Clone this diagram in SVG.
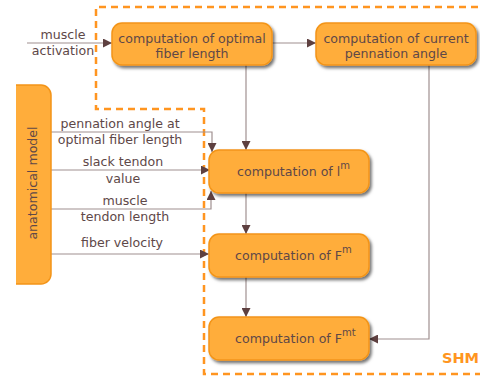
<svg xmlns="http://www.w3.org/2000/svg" width="480" height="376" viewBox="0 0 480 376">
<style>
.box{fill:#ffad3b;stroke:#f39418;stroke-width:1.5;filter:url(#sh)}
.t{font-family:"DejaVu Sans",sans-serif;font-size:12.6px;fill:#5e4848}
.m{text-anchor:middle}
.sup{font-size:10px}
.c{fill:none;stroke:#a09090;stroke-width:1.2;marker-end:url(#ah)}
.dash{fill:none;stroke:#ff9520;stroke-width:2.5;stroke-dasharray:7,5}
</style>
<defs>
<filter id="sh" x="-20%" y="-30%" width="140%" height="170%">
<feDropShadow dx="2" dy="2.5" stdDeviation="1.8" flood-color="#000" flood-opacity="0.55"/>
</filter>
<marker id="ah" viewBox="0 0 10 10" refX="10" refY="5" markerWidth="9" markerHeight="9" markerUnits="userSpaceOnUse" orient="auto">
<path d="M0,0 L10,5 L0,10 z" fill="#5e4040"/>
</marker>
<clipPath id="clipA"><rect x="16" y="0" width="100" height="376"/></clipPath>
</defs>
<rect width="480" height="376" fill="#fff"/>

<g id="shm-boundary">
<path class="dash" d="M490,7 L96,7 L96,109 L204,109 L204,374 L490,374"/>
<text x="479" y="363" text-anchor="end" font-family="DejaVu Sans, sans-serif" font-size="14.5px" font-weight="bold" fill="#ff9520">SHM</text>
</g>

<g id="connectors">
<path class="c" d="M27,43 L112,43"/>
<path class="c" d="M272,43 L316,43"/>
<path class="c" d="M246,65 L246,150"/>
<path class="c" d="M246,193 L246,234"/>
<path class="c" d="M246,277 L246,317"/>
<path class="c" d="M429,65 L429,339 L369,339"/>
<path class="c" d="M50,132 L212,132 L212,152"/>
<path class="c" d="M50,170 L210,170"/>
<path class="c" d="M50,209 L211,209 L211,191"/>
<path class="c" d="M50,254 L209,254"/>
<text class="t m" x="63" y="39">muscle</text>
<text class="t m" x="63" y="55">activation</text>
<text class="t m" x="120" y="128">pennation angle at</text>
<text class="t m" x="120" y="144">optimal fiber length</text>
<text class="t m" x="123" y="166">slack tendon</text>
<text class="t m" x="123" y="183">value</text>
<text class="t m" x="125" y="205">muscle</text>
<text class="t m" x="125" y="221">tendon length</text>
<text class="t m" x="122" y="247">fiber velocity</text>
</g>

<g id="anatomical-model">
<rect class="box" x="0" y="85" width="51" height="199" rx="10" clip-path="url(#clipA)" style="filter:none"/>
<text class="t m" transform="translate(37,183) rotate(-90)">anatomical model</text>
</g>

<g id="optimal-fiber-length">
<rect class="box" x="112" y="23" width="160" height="42" rx="10"/>
<text class="t m" x="192" y="42.5">computation of optimal</text>
<text class="t m" x="192" y="57.5">fiber length</text>
</g>

<g id="current-pennation-angle">
<rect class="box" x="316" y="23" width="160" height="42" rx="10"/>
<text class="t m" x="396" y="42.5">computation of current</text>
<text class="t m" x="396" y="57.5">pennation angle</text>
</g>

<g id="lm">
<rect class="box" x="209" y="150" width="160" height="43" rx="10"/>
<text class="t" x="237" y="176">computation of l<tspan class="sup" dy="-7">m</tspan></text>
</g>

<g id="Fm">
<rect class="box" x="209" y="234" width="160" height="43" rx="10"/>
<text class="t" x="235" y="260">computation of F<tspan class="sup" dy="-7">m</tspan></text>
</g>

<g id="Fmt">
<rect class="box" x="209" y="317" width="160" height="43" rx="10"/>
<text class="t" x="235" y="343">computation of F<tspan class="sup" dy="-7">mt</tspan></text>
</g>
</svg>
